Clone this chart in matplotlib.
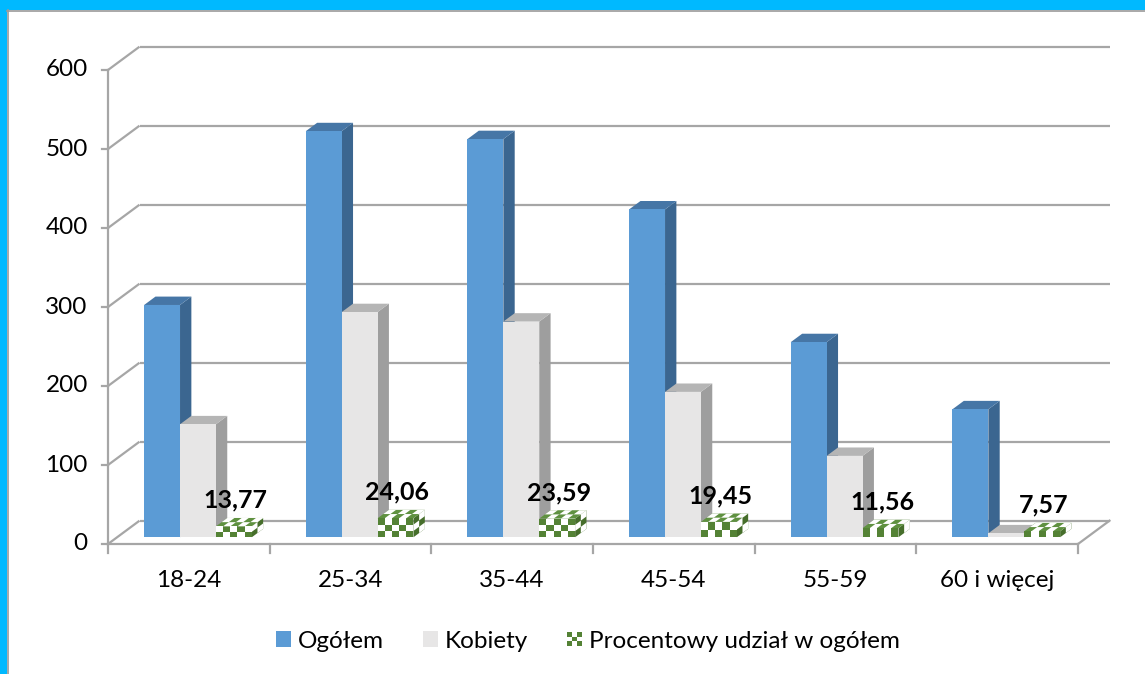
import matplotlib
matplotlib.use("Agg")
import matplotlib.pyplot as plt
from matplotlib.patches import Polygon, Rectangle, Patch
from matplotlib.legend_handler import HandlerBase
import numpy as np

# ---- data ----
categories = ['18-24', '25-34', '35-44', '45-54', '55-59', '60 i więcej']
ogolem = [294, 514, 504, 415, 247, 162]
kobiety = [143, 285, 273, 184, 103, 5]
procent = [13.77, 24.06, 23.59, 19.45, 11.56, 7.57]
procent_labels = ['13,77', '24,06', '23,59', '19,45', '11,56', '7,57']
yticks = [0, 100, 200, 300, 400, 500, 600]
series_names = ['Ogółem', 'Kobiety', 'Procentowy udział w ogółem']

# ---- style ----
FONT = ['Lato', 'DejaVu Sans']
plt.rcParams['font.family'] = FONT
GRID = '#A6A6A6'
BLUE = ('#5B9BD5', '#4676A6', '#3B6690')      # front, top, side
GREY = ('#E7E6E6', '#B5B5B5', '#9E9E9E')
GREEN = ('#548235', '#5F9140', '#466E2B')
CYAN = '#00B9FF'

W, H = 1145, 674
fig = plt.figure(figsize=(W / 100, H / 100), dpi=100)

# axes geometry (pixel mapping)
PX_CAT = 161.67          # px per category
PX_VAL = 0.79            # px per value unit
X0PX, Y0PX = 108, 544    # pixel of (0,0) front
ax_l, ax_r, ax_t, ax_b = 60, 1130, 25, 600
ax = fig.add_axes([ax_l / W, 1 - ax_b / H, (ax_r - ax_l) / W, (ax_b - ax_t) / H])
ax.set_xlim((ax_l - X0PX) / PX_CAT, (ax_r - X0PX) / PX_CAT)
ax.set_ylim((Y0PX - ax_b) / PX_VAL, (Y0PX - ax_t) / PX_VAL)
ax.axis('off')

DX = 31.5 / PX_CAT      # full depth offset, category units
DY = 29.5               # full depth offset, value units
D0 = 0.29               # depth of bar fronts
DB = 0.36               # bar depth
BW = 0.222              # bar width
n = len(categories)
YMAX = yticks[-1]


def P(x, y, d):
    return (x + d * DX, y + d * DY)


lw = 1.6
# walls / gridlines
for v in yticks:
    ax.plot([0, DX], [v, v + DY], color=GRID, lw=lw, solid_capstyle='butt', zorder=1)
    ax.plot([DX, n + DX], [v + DY, v + DY], color=GRID, lw=lw, solid_capstyle='butt', zorder=1)
    ax.plot([-0.038, 0], [v, v], color=GRID, lw=lw, zorder=1)
    ax.text(-0.125, v, str(v), ha='right', va='center', fontsize=17.5, color='#000000')
ax.plot([0, 0], [0, YMAX], color=GRID, lw=lw, zorder=1)
# floor
ax.plot([0, n], [0, 0], color=GRID, lw=lw, zorder=1)
ax.plot([n, n + DX], [0, DY], color=GRID, lw=lw, zorder=1)
for k in range(n + 1):
    ax.plot([k, k], [0, -11.5], color=GRID, lw=lw, zorder=1)
for k, c in enumerate(categories):
    ax.text(k + 0.5, -46, c, ha='center', va='center', fontsize=17.5, color='#000000')


def box_faces(x0, h):
    front = [P(x0, 0, D0), P(x0 + BW, 0, D0), P(x0 + BW, h, D0), P(x0, h, D0)]
    top = [P(x0, h, D0), P(x0 + BW, h, D0), P(x0 + BW, h, D0 + DB), P(x0, h, D0 + DB)]
    side = [P(x0 + BW, 0, D0), P(x0 + BW, 0, D0 + DB), P(x0 + BW, h, D0 + DB), P(x0 + BW, h, D0)]
    return front, top, side


def draw_box(x0, h, cols, z):
    front, top, side = box_faces(x0, h)
    ax.add_patch(Polygon(side, closed=True, fc=cols[2], ec='none', zorder=z))
    ax.add_patch(Polygon(top, closed=True, fc=cols[1], ec='none', zorder=z))
    ax.add_patch(Polygon(front, closed=True, fc=cols[0], ec='none', zorder=z))


def checker(origin, e1, e2, n1, n2, z):
    o = np.array(origin)
    a = np.array(e1)
    b = np.array(e2)
    t1 = np.linspace(0, 1, n1 + 1)
    t2 = np.linspace(0, 1, n2 + 1)
    for i in range(n1):
        for j in range(n2):
            if (i + j) % 2 == 1:
                pts = [o + a * t1[i] + b * t2[j], o + a * t1[i + 1] + b * t2[j],
                       o + a * t1[i + 1] + b * t2[j + 1], o + a * t1[i] + b * t2[j + 1]]
                ax.add_patch(Polygon(pts, closed=True, fc='white', ec='none', zorder=z))


def draw_checker_box(x0, h, z):
    draw_box(x0, h, GREEN, z)
    front, top, side = box_faces(x0, h)
    rows = max(1, int(round(h * PX_VAL / 6.5)))
    checker(front[0], np.subtract(front[1], front[0]), np.subtract(front[3], front[0]), 5, rows, z)
    checker(top[0], np.subtract(top[1], top[0]), np.subtract(top[3], top[0]), 5, 2, z)
    checker(side[0], np.subtract(side[1], side[0]), np.subtract(side[3], side[0]), 2, rows, z)


for k in range(n):
    xs = k + 0.5 - 1.5 * BW
    z = 3 + k * 3
    draw_box(xs, ogolem[k], BLUE, z)
    draw_box(xs + BW, kobiety[k], GREY, z + 1)
    draw_checker_box(xs + 2 * BW, procent[k], z + 2)
    fx, fy = P(xs + 2.5 * BW + 0.01, procent[k] + 32, 0)
    ax.text(fx + D0 * DX, fy, procent_labels[k], ha='center', va='baseline',
            fontsize=18, fontweight='bold', color='#000000', zorder=40)


# legend
class CheckerHandler(HandlerBase):
    def create_artists(self, legend, orig_handle, xdescent, ydescent, width, height, fontsize, trans):
        s = min(width, height)
        x0, y0 = -xdescent, -ydescent + (height - s) / 2
        c = s / 3
        arts = []
        for i in range(3):
            for j in range(3):
                col = GREEN[0] if (i + j) % 2 == 0 else 'white'
                arts.append(Rectangle((x0 + i * c, y0 + j * c), c, c, fc=col, ec='none', transform=trans))
        return arts


class CheckerKey:
    pass


handles = [Patch(fc=BLUE[0], ec='none'), Patch(fc=GREY[0], ec='none'), CheckerKey()]
fig.legend(handles, series_names, loc='center', bbox_to_anchor=(588 / W, 1 - 641 / H),
           ncol=3, frameon=False, fontsize=17.5, handlelength=0.6, handleheight=0.6,
           handletextpad=0.3, columnspacing=1.6,
           handler_map={CheckerKey: CheckerHandler()})

# frame: cyan border top/left with grey inner line
fig.add_artist(Rectangle((0, 1 - 10 / H), 1, 10 / H, transform=fig.transFigure, fc=CYAN, ec='none'))
fig.add_artist(Rectangle((0, 0), 7 / W, 1, transform=fig.transFigure, fc=CYAN, ec='none'))
fig.add_artist(plt.Line2D([7 / W, 1], [1 - 10.5 / H, 1 - 10.5 / H], transform=fig.transFigure,
                          color='#9A9A9A', lw=1.2))
fig.add_artist(plt.Line2D([7.5 / W, 7.5 / W], [0, 1 - 10 / H], transform=fig.transFigure,
                          color='#9A9A9A', lw=1.2))

fig.savefig('out.png', dpi=100, facecolor='white')
